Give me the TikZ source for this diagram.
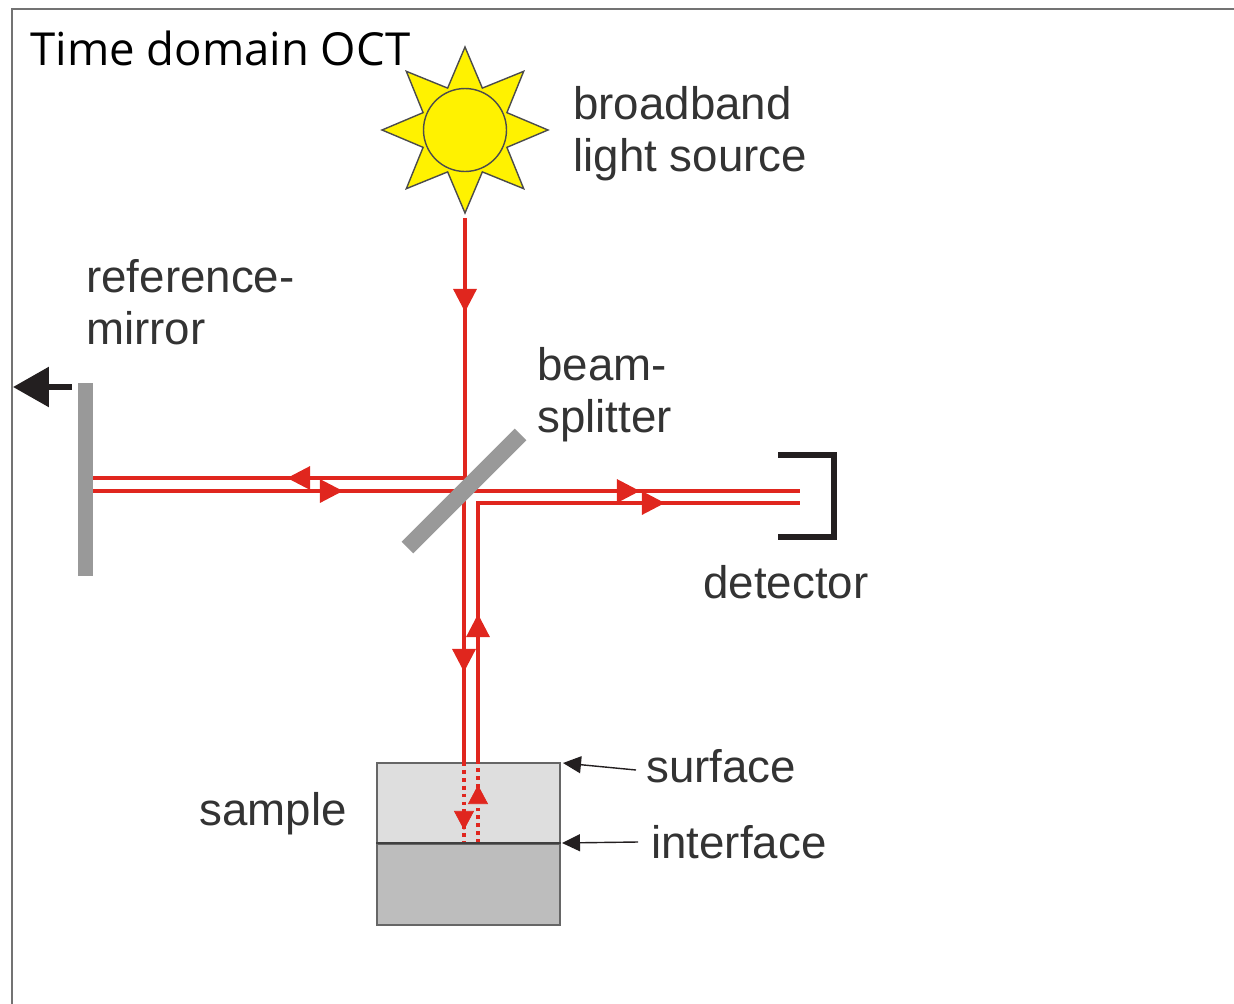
\documentclass[tikz,border=0pt]{standalone}
\usepackage{xcolor}
\usepackage{fontspec}
\setmainfont{Liberation Sans}
\newfontfamily\titlefont{Open Sans}
\usetikzlibrary{arrows.meta,decorations.markings,shapes.geometric}
\definecolor{beamred}{HTML}{E0261E}
\definecolor{inkblack}{HTML}{231F20}
\definecolor{labelgray}{HTML}{333333}
\definecolor{partgray}{HTML}{999999}
\tikzset{
    beam/.style={draw=beamred, line width=1.9pt},
    beamdots/.style={draw=beamred, line width=1.9pt, dash pattern=on 2.2pt off 2.3pt},
    beamtip/.style={postaction={decorate, decoration={markings,
        mark=at position #1 with {\arrow{Triangle[length=0.46cm,width=0.46cm]}}}}},
    tag/.style={inner sep=0pt, align=left, text=labelgray, font=\fontsize{26}{29.5}\selectfont},
    pointer/.style={draw=inkblack, line width=0.8pt, -{Triangle[length=0.36cm,width=0.34cm]}},
    part/.style={fill=partgray, inner sep=0pt},
    block/.style={draw=black!60, line width=1.2pt, inner sep=0pt, minimum width=3.66cm, minimum height=1.62cm}
}
\begin{document}
\begin{tikzpicture}[x=0.02cm, y=-0.02cm]
    \useasboundingbox (0,0) rectangle (1234,1004);

    % Frame and title
    \draw[black!55, line width=1.2pt] (12,1004) -- (12,9) -- (1234,9);
    \node[inner sep=0pt, anchor=base west, font=\titlefont\fontsize{25.9}{30}\selectfont] (title) at (30,65) {Time domain OCT};

    % Light source
    \node[star, star points=8, minimum size=3.32cm, star point ratio=1.83, inner sep=0pt,
        draw=black!70, fill=yellow, line width=0.8pt] (sun) at (465,130) {};
    \node[circle, minimum size=1.66cm, inner sep=0pt, draw=black!70, fill=yellow, line width=0.8pt] (disk) at (465,130) {};

    % Sample and mirror
    \node[part, minimum width=0.3cm, minimum height=3.86cm] (mirror) at (85.5,479.5) {};
    \node[block, fill=black!13, anchor=north west] (layerTop) at (376,762) {};
    \node[block, fill=black!26, anchor=north west] (layerBottom) at (376,843) {};

    % Beam end points
    \coordinate (srcEnd) at (465,218);
    \coordinate (turnRef) at (465,478);
    \coordinate (refUp) at (93,478);
    \coordinate (refLow) at (93,491);
    \coordinate (detUp) at (800,491);
    \coordinate (detLow) at (800,503);
    \coordinate (turnDet) at (478,503);
    \coordinate (inSplit) at (464,491);
    \coordinate (inSurf) at (464,762);
    \coordinate (inFace) at (464,843);
    \coordinate (outSurf) at (478,762);
    \coordinate (outFace) at (478,843);

    % Beams
    \draw[beam, beamtip=1.88cm, beamtip=8.76cm] (srcEnd) -- (turnRef) -- (refUp);
    \draw[beam, beamtip=5cm, beamtip=10.94cm] (refLow) -- (detUp);
    \draw[beam, beamtip=2.96cm, beamtip=8.92cm] (outSurf) -- (turnDet) -- (detLow);
    \draw[beam, beamtip=3.62cm] (inSplit) -- (inSurf);
    \draw[beamdots] (inSurf) -- (inFace);
    \draw[beamdots] (outFace) -- (outSurf);
    \draw[draw=none, postaction={decorate, decoration={markings, mark=at position 1.36cm with {\arrow[beamred]{Triangle[length=0.38cm,width=0.4cm]}}}}] (inSurf) -- (inFace);
    \draw[draw=none, postaction={decorate, decoration={markings, mark=at position 1.16cm with {\arrow[beamred]{Triangle[length=0.38cm,width=0.4cm]}}}}] (outFace) -- (outSurf);
    \draw[black!75, line width=0.6pt] (layerBottom.north west) -- (layerBottom.north east);

    % Splitter lies over the beams
    \node[part, rotate=45, minimum width=3.2cm, minimum height=0.33cm] (splitter) at (464,491) {};

    % Detector
    \coordinate (detA) at (778,455);
    \coordinate (detB) at (834,455);
    \coordinate (detC) at (834,537);
    \coordinate (detD) at (778,537);
    \draw[inkblack, line width=2.9pt, miter limit=10] (detA) -- (detB) -- (detC) -- (detD);

    % Mirror movement
    \coordinate (moveStart) at (72,387);
    \coordinate (moveEnd) at (13,387);
    \draw[inkblack, line width=3.4pt, -{Triangle[length=0.72cm,width=0.78cm]}] (moveStart) -- (moveEnd);

    % Labels
    \node[tag, anchor=west] (lblSource) at (573,134) {broadband\\light source};
    \node[tag, anchor=west] (lblMirror) at (86,302) {reference-\\mirror};
    \node[tag, anchor=west] (lblSplitter) at (537,395) {beam-\\splitter};
    \node[tag, anchor=base west] (lblDetector) at (703,598) {detector};
    \node[tag, anchor=base west] (lblSample) at (199,825) {sample};
    \node[tag, anchor=base west] (lblSurface) at (646,782) {surface};
    \node[tag, anchor=base west] (lblInterface) at (651,858) {interface};

    % Label pointers
    \coordinate (surfaceTail) at (636,770);
    \coordinate (surfaceTip) at (563,763);
    \coordinate (interfaceTail) at (638,842);
    \coordinate (interfaceTip) at (562,843);
    \draw[pointer] (surfaceTail) -- (surfaceTip);
    \draw[pointer] (interfaceTail) -- (interfaceTip);
\end{tikzpicture}
\end{document}
